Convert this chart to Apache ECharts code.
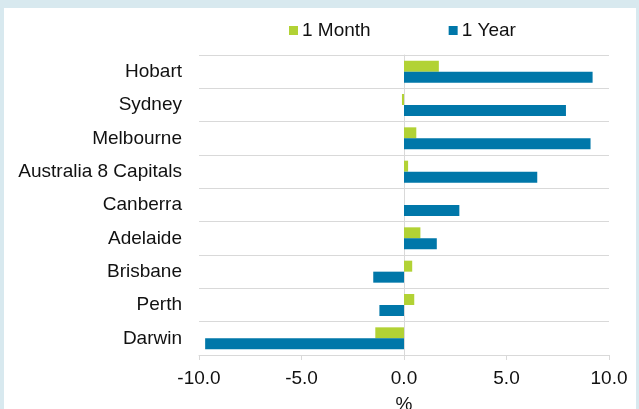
<!DOCTYPE html>
<html><head><meta charset="utf-8">
<script src="https://cdn.jsdelivr.net/npm/echarts@6/dist/echarts.min.js"></script>
<style>
html,body{margin:0;padding:0;width:639px;height:409px;background:#d8e9ef;overflow:hidden;}
#main{position:absolute;left:4px;top:8px;width:632px;height:401px;background:#fff;}
</style></head>
<body><div id="main"></div>
<script>
const categories = ["Hobart","Sydney","Melbourne","Australia 8 Capitals","Canberra","Adelaide","Brisbane","Perth","Darwin"];
const oneMonth = [1.7, -0.1, 0.6, 0.2, 0.0, 0.8, 0.4, 0.5, -1.4];
const oneYear = [9.2, 7.9, 9.1, 6.5, 2.7, 1.6, -1.5, -1.2, -9.7];
const xTicks = [-10, -5, 0, 5, 10];

const chart = echarts.init(document.getElementById('main'), null, {renderer:'canvas'});
const font = 'Liberation Sans, Arial, sans-serif';
const fs = 19;
chart.setOption({
  animation:false,
  textStyle:{fontFamily:font},
  legend:{
    left:280, top:8, itemWidth:9, itemHeight:9, itemGap:78,
    icon:'rect',
    textStyle:{fontSize:fs, color:'#111', fontFamily:font, padding:[0,0,0,-1]},
    data:['1 Month','1 Year']
  },
  grid:{left:195, right:27, top:47, bottom:54, containLabel:false, outerBoundsMode:'none'},
  xAxis:{
    type:'value', min:xTicks[0], max:xTicks[xTicks.length-1], interval:5,
    name:'%', nameLocation:'middle', nameGap:40,
    nameTextStyle:{fontSize:fs, color:'#111', fontFamily:font},
    axisLabel:{fontSize:fs, color:'#111', fontFamily:font, margin:14, formatter:v=>v.toFixed(1)},
    axisLine:{show:true, lineStyle:{color:'#d9d9d9', width:1}},
    axisTick:{show:true, length:5, lineStyle:{color:'#d9d9d9'}},
    splitLine:{show:false}
  },
  yAxis:{
    type:'category', data:categories, inverse:true,
    axisLabel:{fontSize:fs, color:'#111', fontFamily:font, margin:17},
    axisLine:{show:true, onZero:true, lineStyle:{color:'#d9d9d9', width:1}},
    axisTick:{show:false},
    splitLine:{show:true, lineStyle:{color:'#d9d9d9', width:1}}
  },
  series:[
    {name:'1 Month', type:'bar', data:oneMonth, barWidth:11, barGap:'0%',
     itemStyle:{color:'#b2d235'}},
    {name:'1 Year', type:'bar', data:oneYear, barWidth:11, barGap:'0%',
     itemStyle:{color:'#0077a9'}}
  ]
});
</script></body></html>
